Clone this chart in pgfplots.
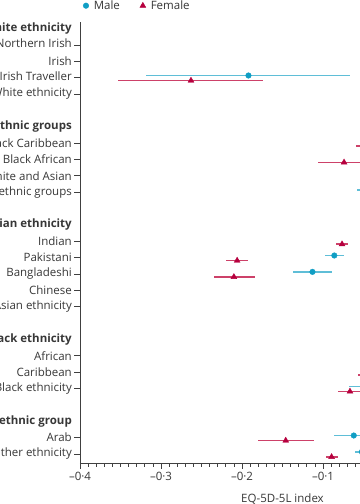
\documentclass[border=0pt]{standalone}
\usepackage{pgfplots}
\pgfplotsset{compat=1.18}
\usepackage{pgfplotstable}
\usepackage{fontspec}
\setmainfont{Open Sans}
\definecolor{mline}{RGB}{95,190,215}
\definecolor{mmark}{RGB}{16,158,196}
\definecolor{fline}{RGB}{205,65,105}
\definecolor{fmark}{RGB}{182,0,62}
\definecolor{txt}{RGB}{55,55,55}

\pgfplotstableread{
y x ep em
-2.87 -0.010 0.020 0.020
-3.87 -0.192 0.125 0.126
-4.87 -0.010 0.010 0.010
-7.87 -0.030 0.020 0.020
-8.87 -0.020 0.030 0.030
-9.87 -0.010 0.030 0.030
-10.87 -0.030 0.030 0.028
-13.87 -0.040 0.010 0.010
-14.87 -0.086 0.012 0.0115
-15.87 -0.113 0.0245 0.024
-16.87 0.010 0.030 0.030
-17.87 -0.020 0.020 0.020
-20.87 0.000 0.020 0.020
-21.87 -0.030 0.020 0.020
-22.87 -0.030 0.035 0.0375
-25.87 -0.062 0.025 0.025
-26.87 -0.052 0.008 0.008
}\male

\pgfplotstableread{
y x ep em
-3.18 -0.020 0.020 0.020
-4.18 -0.263 0.089 0.090
-5.18 -0.010 0.010 0.010
-8.18 -0.030 0.030 0.029
-9.18 -0.074 0.032 0.032
-10.18 -0.020 0.030 0.030
-11.18 -0.020 0.030 0.030
-14.18 -0.0765 0.0075 0.0075
-15.18 -0.206 0.013 0.014
-16.18 -0.210 0.026 0.025
-17.18 0.000 0.030 0.030
-18.18 -0.020 0.025 0.025
-21.18 -0.010 0.020 0.020
-22.18 -0.030 0.027 0.027
-23.18 -0.0667 0.0147 0.0153
-26.18 -0.146 0.035 0.034
-27.18 -0.0894 0.0084 0.0069
}\female

\begin{document}
\begin{tikzpicture}
\path[use as bounding box] (0,0) rectangle (360bp,504bp);
\clip (0,0) rectangle (360bp,504bp);
\begin{axis}[
  at={(80bp,41bp)}, anchor=south west,
  scale only axis, width=405bp, height=441bp,
  xmin=-0.4, xmax=0.1, ymin=-27.55, ymax=-0.6,
  axis x line*=bottom, axis y line*=left,
  axis line style={-, draw=black!75, line width=0.8bp},
  tick align=outside,
  major tick length=5.5bp, minor tick length=3.5bp,
  tick style={draw=black!75, line width=0.7bp},
  xtick={-0.4,-0.3,-0.2,-0.1,0,0.1},
  xticklabels={–0·4,–0·3,–0·2,–0·1,0,0·1},
  minor x tick num=9,
  ytick={-2,-3,-4,-5,-8,-9,-10,-11,-14,-15,-16,-17,-18,-21,-22,-23,-26,-27},
  yticklabels={{English, Welsh, Scottish, or Northern Irish},Irish,Gypsy or Irish Traveller,Other White ethnicity,
    White and Black Caribbean,White and Black African,White and Asian,Other mixed or multiple ethnic groups,
    Indian,Pakistani,Bangladeshi,Chinese,Other Asian ethnicity,
    African,Caribbean,Other Black ethnicity,
    Arab,Any other ethnicity},
  extra y ticks={-1,-7,-13,-20,-25},
  extra y tick labels={White ethnicity,Mixed or multiple ethnic groups,Asian ethnicity,Black ethnicity,Other ethnic group},
  extra y tick style={major tick style={draw=none}, yticklabel style={font=\fontsize{11.5bp}{14bp}\selectfont\bfseries}},
  tick label style={font=\fontsize{11.5bp}{14bp}\selectfont, text=txt},
  yticklabel style={inner sep=2.5bp},
  xlabel={EQ-5D-5L index},
  xlabel style={font=\fontsize{11.5bp}{14bp}\selectfont, text=txt, yshift=-6bp},
  legend style={draw=none, at={(0,1)}, anchor=south west, xshift=0bp, yshift=7bp,
    font=\fontsize{11.5bp}{14bp}\selectfont, text=txt, legend columns=2,
    /tikz/every odd column/.append style={column sep=3bp},
    /tikz/every even column/.append style={column sep=18bp}},
  legend image code/.code={\draw[#1] plot coordinates {(0.1cm,0cm)};},
]
\addlegendimage{only marks, mark=*, mmark, mark size=2.8bp}
\addlegendentry{Male}
\addlegendimage{only marks, mark=triangle*, fmark, mark size=3.4bp}
\addlegendentry{Female}
\addplot[forget plot, only marks, mark=*, mmark, mark size=2.8bp,
  error bars/.cd, x dir=both, x explicit, error mark=none,
  error bar style={line width=1.6bp, mline}]
  table[x=x, y=y, x error plus=ep, x error minus=em]{\male};
\addplot[forget plot, only marks, mark=triangle*, fmark, mark size=3.4bp,
  error bars/.cd, x dir=both, x explicit, error mark=none,
  error bar style={line width=1.6bp, fline}]
  table[x=x, y=y, x error plus=ep, x error minus=em]{\female};
\end{axis}
\end{tikzpicture}
\end{document}
